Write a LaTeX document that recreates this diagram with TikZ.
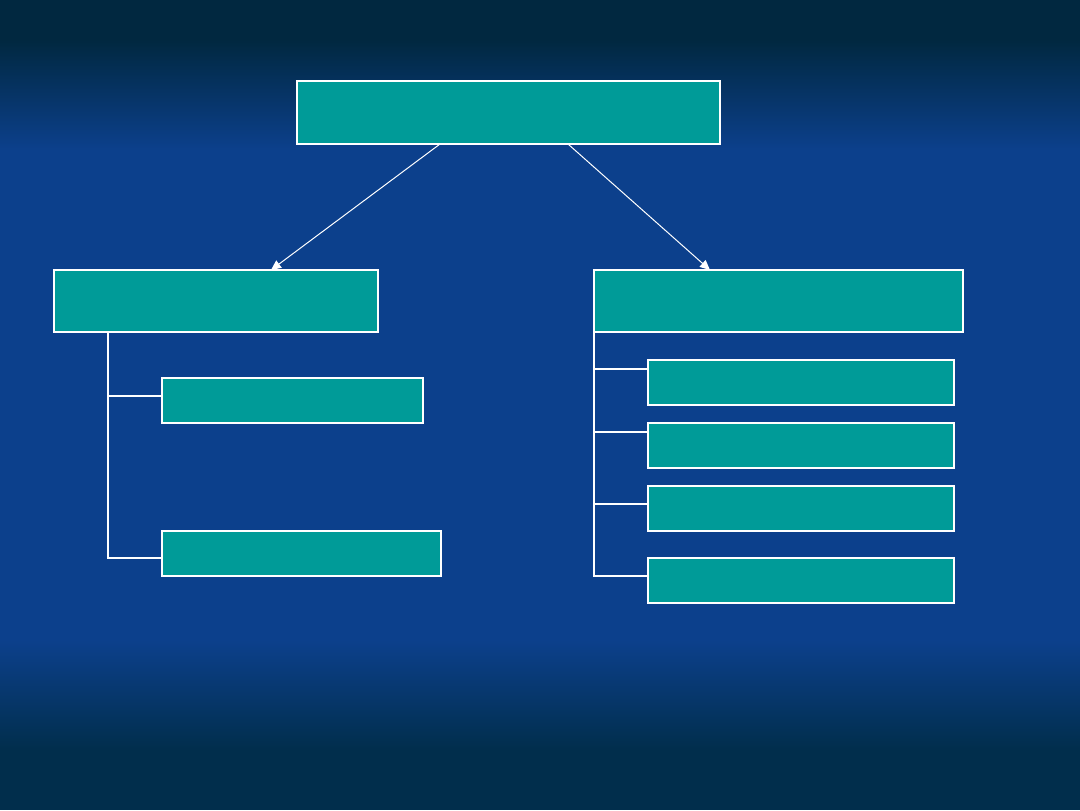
\documentclass[tikz,border=0pt]{standalone}
\usetikzlibrary{arrows.meta}
\begin{document}
\begin{tikzpicture}[x=1mm,y=-1mm,
  box/.style 2 args={draw={rgb,255:red,255;green,255;blue,255},fill={rgb,255:red,0;green,155;blue,152},line width=0.22mm,minimum width=#1,minimum height=#2,inner sep=0pt,outer sep=0pt},
  arr/.style={draw={rgb,255:red,255;green,255;blue,255},line width=0.1mm,-{Triangle[width=0.9mm,length=1mm]}},
  tree/.style={draw={rgb,255:red,255;green,255;blue,255},line width=0.2mm}]
% 108mm x 81mm, dark blue slide
\useasboundingbox (0,0) rectangle (108,81);
\path[fill={rgb,255:red,12;green,64;blue,140}] (0,0) rectangle (108,81);
\path[fill={rgb,255:red,1;green,40;blue,64}] (0,0) rectangle (108,4);
\shade[top color={rgb,255:red,1;green,40;blue,64},bottom color={rgb,255:red,12;green,64;blue,140}] (0,4) rectangle (108,15);
\shade[top color={rgb,255:red,12;green,64;blue,140},bottom color={rgb,255:red,1;green,46;blue,76}] (0,64) rectangle (108,75);
\path[fill={rgb,255:red,1;green,46;blue,76}] (0,75) rectangle (108,81);
% boxes
\node[box={42.3mm}{6.3mm}] (top) at (50.85,11.25) {};
\node[box={32.4mm}{6.2mm}] (left) at (21.6,30.1) {};
\node[box={36.9mm}{6.2mm}] (right) at (77.85,30.1) {};
\node[box={26.1mm}{4.5mm}] (l1) at (29.25,40.05) {};
\node[box={27.9mm}{4.5mm}] (l2) at (30.15,55.35) {};
\node[box={30.6mm}{4.5mm}] (r1) at (80.1,38.25) {};
\node[box={30.6mm}{4.5mm}] (r2) at (80.1,44.55) {};
\node[box={30.6mm}{4.5mm}] (r3) at (80.1,50.85) {};
\node[box={30.6mm}{4.5mm}] (r4) at (80.1,58.05) {};
% arrows
\draw[arr] ([xshift=-6.85mm]top.south) -- ([xshift=5.5mm]left.north);
\draw[arr] ([xshift=5.95mm]top.south) -- ([xshift=-6.85mm]right.north);
% left tree
\coordinate (ltrunk) at ([xshift=5.4mm]left.south west);
\draw[tree] (ltrunk) |- ([yshift=-0.45mm]l2.west);
\draw[tree] ([yshift=0.45mm]l1.west) -- ++(-5.4,0);
% right tree
\draw[tree] (right.south west) |- ([yshift=0.45mm]r4.west);
\foreach \n/\s in {r1/1.35,r2/1.35,r3/0.45}
  \draw[tree] ([yshift=\s mm]\n.west) -- ++(-5.4,0);
\end{tikzpicture}
\end{document}
